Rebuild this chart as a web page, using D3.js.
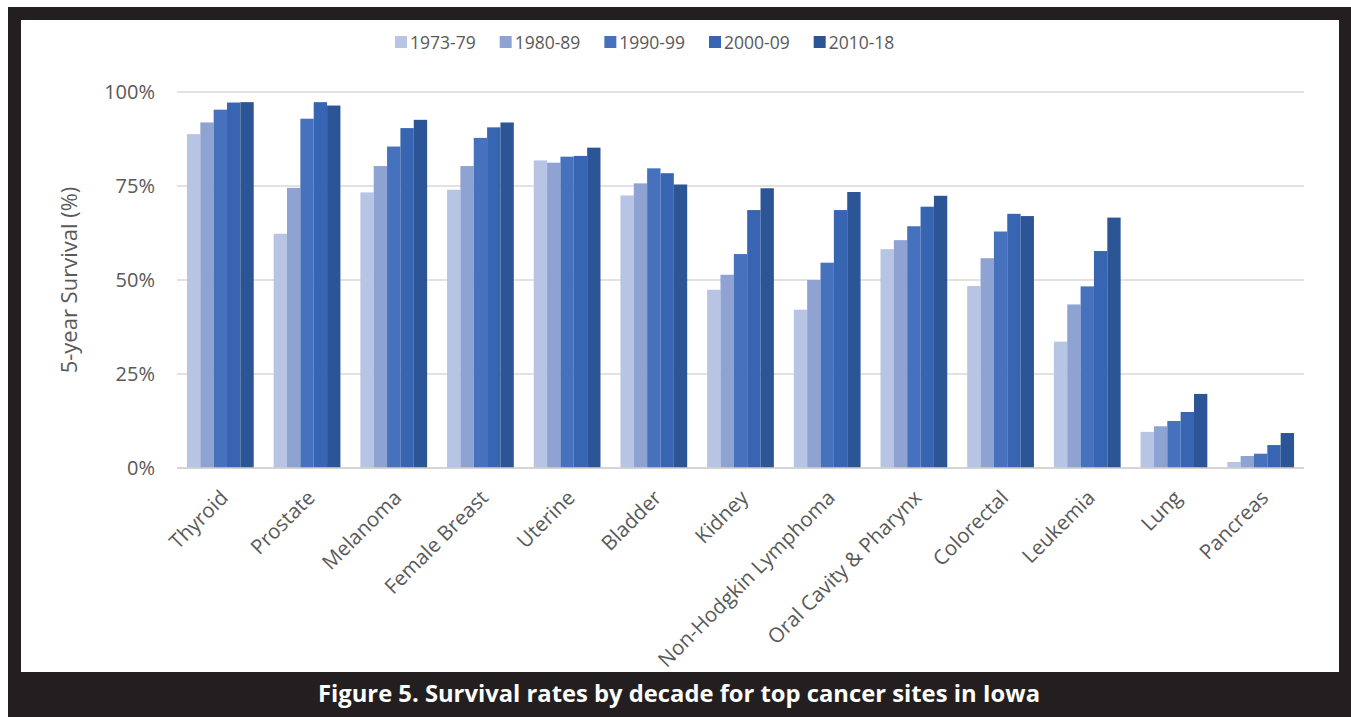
<!DOCTYPE html>
<html>
<head>
<meta charset="utf-8">
<script src="https://cdn.jsdelivr.net/npm/d3@7"></script>
<style>
  body { margin: 0; background: #ffffff; }
  text { font-family: "Open Sans", sans-serif; }
</style>
</head>
<body>
<div id="chart"></div>
<script>
// cancer sites, in the order shown
const sites = ["Thyroid", "Prostate", "Melanoma", "Female Breast", "Uterine", "Bladder", "Kidney",
  "Non-Hodgkin Lymphoma", "Oral Cavity & Pharynx", "Colorectal", "Leukemia", "Lung", "Pancreas"];

const decades = ["1973-79", "1980-89", "1990-99", "2000-09", "2010-18"];

// 5-year survival (%) per decade, one value per site
const survival1973 = [88.8, 62.3, 73.3, 74.0, 81.8, 72.5, 47.4, 42.1, 58.2, 48.4, 33.6, 9.6, 1.6];
const survival1980 = [91.9, 74.5, 80.3, 80.3, 81.2, 75.7, 51.4, 50.0, 60.6, 55.8, 43.5, 11.1, 3.2];
const survival1990 = [95.3, 92.9, 85.5, 87.8, 82.8, 79.7, 56.9, 54.6, 64.3, 62.9, 48.3, 12.5, 3.8];
const survival2000 = [97.2, 97.3, 90.4, 90.6, 83.0, 78.4, 68.6, 68.6, 69.5, 67.6, 57.7, 14.9, 6.1];
const survival2010 = [97.3, 96.4, 92.6, 91.9, 85.2, 75.4, 74.4, 73.4, 72.4, 67.0, 66.6, 19.7, 9.3];

const yTicks = [0, 25, 50, 75, 100];

const seriesColors = ["#b8c4e3", "#8fa3d3", "#4672bd", "#3865b1", "#2c5596"];

const W = 1351, H = 717;
const margin = { top: 92, right: 47, bottom: 249, left: 177 };

const allSeries = [survival1973, survival1980, survival1990, survival2000, survival2010];
const rows = sites.map((s, i) => ({
  site: s,
  values: decades.map((d, j) => ({ decade: d, value: allSeries[j][i] }))
}));

const svg = d3.select("#chart").append("svg")
  .attr("width", W)
  .attr("height", H);

// dark frame with white panel and caption band
svg.append("rect").attr("x", 8).attr("y", 7).attr("width", W - 8).attr("height", H - 7).attr("fill", "#231f20");
svg.append("rect").attr("x", 21).attr("y", 20).attr("width", 1318).attr("height", 652).attr("fill", "#ffffff");

svg.append("text")
  .attr("x", 679)
  .attr("y", 702)
  .attr("text-anchor", "middle")
  .attr("fill", "#ffffff")
  .attr("font-size", "23px")
  .attr("font-weight", 700)
  .attr("textLength", 722)
  .attr("lengthAdjust", "spacingAndGlyphs")
  .text("Figure 5. Survival rates by decade for top cancer sites in Iowa");

const innerW = W - margin.left - margin.right;
const innerH = H - margin.top - margin.bottom;

const g = svg.append("g").attr("transform", `translate(${margin.left},${margin.top})`);

const x0 = d3.scaleBand().domain(sites).range([0, innerW]).paddingInner(0.23).paddingOuter(0.115);
const x1 = d3.scaleBand().domain(decades).range([0, x0.bandwidth()]);
const y = d3.scaleLinear().domain([0, 100]).range([innerH, 0]);
const color = d3.scaleOrdinal().domain(decades).range(seriesColors);

// gridlines
g.selectAll(".grid")
  .data(yTicks)
  .join("line")
  .attr("class", "grid")
  .attr("x1", 0)
  .attr("x2", innerW)
  .attr("y1", d => y(d))
  .attr("y2", d => y(d))
  .attr("stroke", "#d9d9d9")
  .attr("stroke-width", 1.5);

// y axis labels
const yAxis = g.append("g")
  .call(d3.axisLeft(y).tickValues(yTicks).tickFormat(d => d + "%").tickSize(0).tickPadding(22));
yAxis.select(".domain").remove();
yAxis.selectAll("text")
  .attr("fill", "#595959")
  .style("font-size", "20px")
  .style("font-family", "'Open Sans', sans-serif");

svg.append("text")
  .attr("transform", `translate(69,${margin.top + y(50)}) rotate(-90)`)
  .attr("text-anchor", "middle")
  .attr("dy", "0.35em")
  .attr("fill", "#595959")
  .attr("font-size", "22px")
  .text("5-year Survival (%)");

// bars
g.selectAll(".site")
  .data(rows)
  .join("g")
  .attr("class", "site")
  .attr("transform", d => `translate(${x0(d.site)},0)`)
  .selectAll("rect")
  .data(d => d.values)
  .join("rect")
  .attr("x", d => x1(d.decade))
  .attr("width", x1.bandwidth())
  .attr("y", d => y(d.value))
  .attr("height", d => innerH - y(d.value))
  .attr("fill", d => color(d.decade));

// baseline
g.append("line")
  .attr("x1", 0).attr("x2", innerW)
  .attr("y1", y(0)).attr("y2", y(0))
  .attr("stroke", "#d0d0d0")
  .attr("stroke-width", 1.5);

// rotated category labels
g.selectAll(".xlabel")
  .data(sites)
  .join("text")
  .attr("class", "xlabel")
  .attr("transform", d => `translate(${x0(d) + x0.bandwidth() / 2 + 9},${innerH + 31}) rotate(-45)`)
  .attr("text-anchor", "end")
  .attr("fill", "#595959")
  .attr("font-size", "20.5px")
  .text(d => d);

// legend
const legend = svg.append("g").attr("transform", "translate(395,36)");
let lx = 0;
decades.forEach(d => {
  const item = legend.append("g").attr("transform", `translate(${lx},0)`);
  item.append("rect").attr("width", 12).attr("height", 12).attr("fill", color(d));
  const t = item.append("text")
    .attr("x", 15)
    .attr("y", 12.5)
    .attr("fill", "#595959")
    .attr("font-size", "17.5px")
    .text(d);
  lx += 15 + t.node().getComputedTextLength() + 24;
});
</script>
</body>
</html>
